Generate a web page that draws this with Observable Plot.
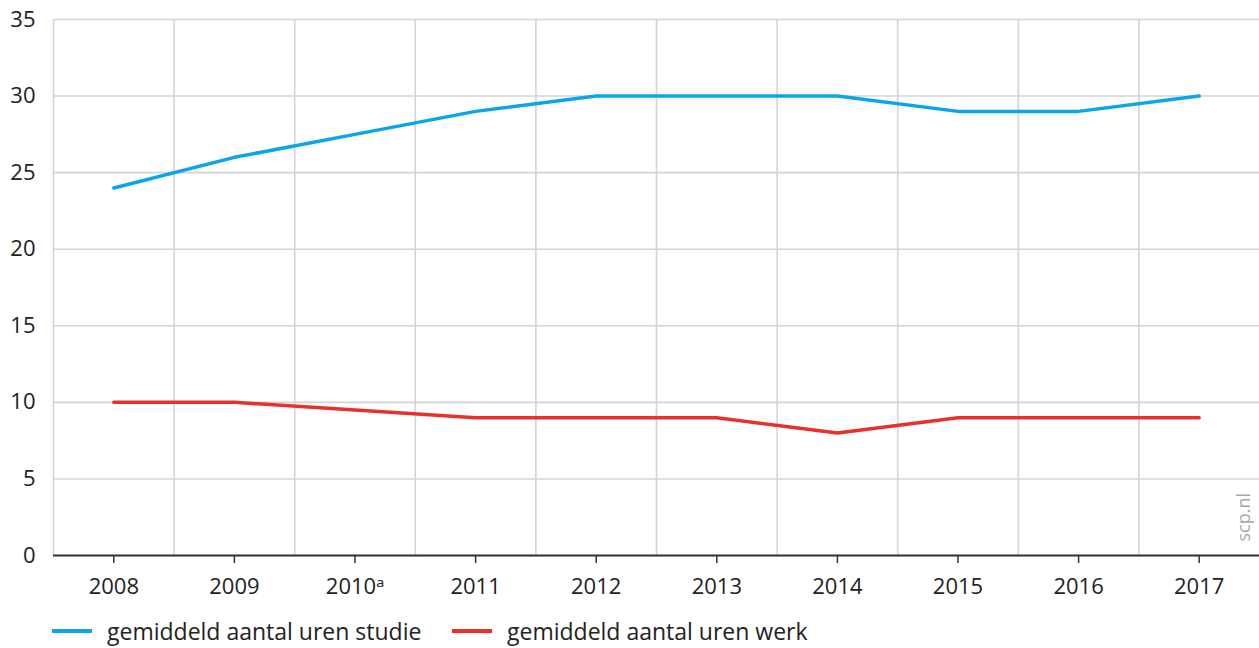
<!DOCTYPE html>
<html>
<head>
<meta charset="utf-8">
<script src="https://cdn.jsdelivr.net/npm/d3@7"></script>
<script src="https://cdn.jsdelivr.net/npm/@observablehq/plot@0.6"></script>
<style>
  html, body { margin: 0; padding: 0; background: #fff; }
  body { width: 1259px; height: 648px; overflow: hidden; font-family: "Open Sans", "Noto Sans", sans-serif; }
  #legend { position: relative; height: 48px; font-size: 23px; color: #222; }
  .item { position: absolute; top: 15px; display: flex; align-items: center; }
  .sw { width: 40px; height: 3.5px; margin-right: 15px; }
</style>
</head>
<body>
<div id="chart"></div>
<div id="legend"></div>
<script>
const years = [2008, 2009, 2010, 2011, 2012, 2013, 2014, 2015, 2016, 2017];
const yearLabels = ["2008", "2009", "2010ᵃ", "2011", "2012", "2013", "2014", "2015", "2016", "2017"];
const studie = [24, 26, 27.5, 29, 30, 30, 30, 29, 29, 30];
const werk = [10, 10, 9.5, 9, 9, 9, 8, 9, 9, 9];
const seriesNames = ["gemiddeld aantal uren studie", "gemiddeld aantal uren werk"];
const seriesColors = ["#0aa6e8", "#e8312a"];
const yTicks = [0, 5, 10, 15, 20, 25, 30, 35];
const vGrid = [2007.5, 2008.5, 2009.5, 2010.5, 2011.5, 2012.5, 2013.5, 2014.5, 2015.5, 2016.5];

const rows = [];
years.forEach((y, i) => {
  rows.push({year: y, value: studie[i], serie: seriesNames[0]});
  rows.push({year: y, value: werk[i], serie: seriesNames[1]});
});

const chart = Plot.plot({
  width: 1259,
  height: 600,
  marginLeft: 53,
  marginRight: 0,
  marginTop: 19,
  marginBottom: 45,
  style: {fontFamily: "'Open Sans', 'Noto Sans', sans-serif", fontSize: "22px", color: "#222", background: "#fff"},
  x: {domain: [2007.5, 2017.5], label: null},
  y: {domain: [0, 35], label: null},
  color: {domain: seriesNames, range: seriesColors},
  marks: [
    Plot.gridY(yTicks, {stroke: "#d4d4d4", strokeOpacity: 1, strokeWidth: 1.6}),
    Plot.gridX(vGrid, {stroke: "#d4d4d4", strokeOpacity: 1, strokeWidth: 1.6}),
    Plot.axisY(yTicks, {tickSize: 0, tickPadding: 18, fontSize: 22, fill: "#222", label: null}),
    Plot.axisX(years, {tickSize: 8, tickPadding: 15, fontSize: 22, fill: "#222", stroke: "#333", strokeWidth: 1.5, label: null,
      tickFormat: (d) => yearLabels[years.indexOf(d)]}),
    Plot.ruleY([0], {stroke: "#333", strokeWidth: 2}),
    Plot.line(rows, {x: "year", y: "value", z: "serie", stroke: "serie", strokeWidth: 3.5, curve: "linear"}),
    Plot.text(["scp.nl"], {frameAnchor: "bottom-right", dx: -10, dy: -14, rotate: -90, textAnchor: "start", fill: "#a8a8a8", fontSize: 18})
  ]
});
document.getElementById("chart").appendChild(chart);

const legend = document.getElementById("legend");
const lefts = [52, 452];
seriesNames.forEach((n, i) => {
  const it = document.createElement("div");
  it.className = "item";
  it.style.left = lefts[i] + "px";
  it.innerHTML = `<span class="sw" style="background:${seriesColors[i]}"></span><span>${n}</span>`;
  legend.appendChild(it);
});
</script>
</body>
</html>
